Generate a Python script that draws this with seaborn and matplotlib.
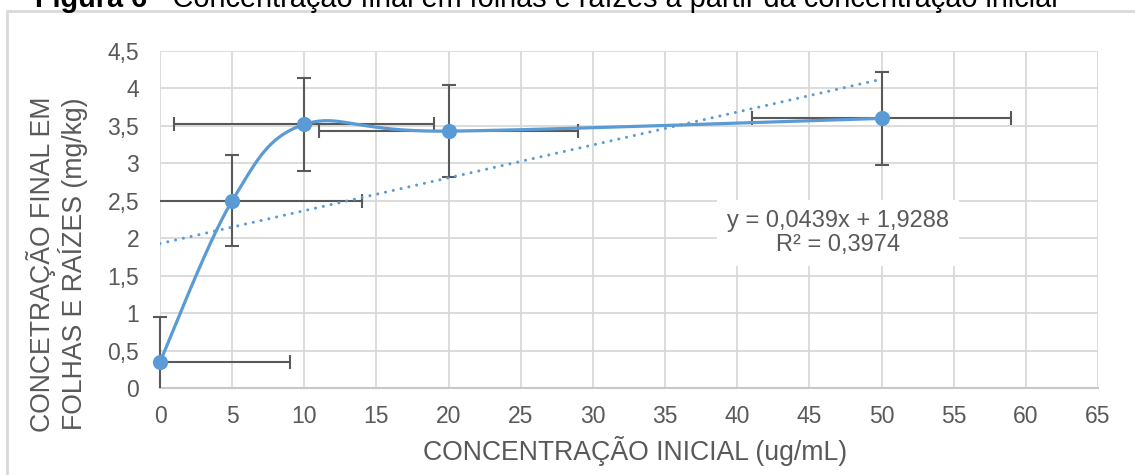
import numpy as np
import matplotlib
matplotlib.use("Agg")
import matplotlib.pyplot as plt
from matplotlib.patches import Rectangle
import seaborn as sns

# ---- data ----
conc_inicial = [0, 5, 10, 20, 50]
conc_final = [0.35, 2.50, 3.52, 3.43, 3.60]
erro_y = [0.60, 0.61, 0.62, 0.61, 0.62]
erro_x = [9, 9, 9, 9, 9]
trend_slope = 0.0439
trend_intercept = 1.9288
trend_r2 = 0.3974
x_ticks = list(range(0, 70, 5))
y_ticks = [0, 0.5, 1, 1.5, 2, 2.5, 3, 3.5, 4, 4.5]
y_tick_labels = ["0", "0,5", "1", "1,5", "2", "2,5", "3", "3,5", "4", "4,5"]

BLUE = "#5b9bd5"
GREY = "#595959"
GRID = "#d9d9d9"
W, H = 1135, 475
XMIN, XMAX, YMIN, YMAX = 0, 65, 0, 4.5

sns.set_theme(style="white")
plt.rcParams["font.family"] = ["Liberation Sans", "DejaVu Sans"]


def catmull_rom(xs, ys, n=60):
    """Excel-like smoothed line (Catmull-Rom through the data points)."""
    P = np.column_stack([xs, ys]).astype(float)
    P = np.vstack([P[0], P, P[-1]])
    out = []
    for i in range(1, len(P) - 2):
        p0, p1, p2, p3 = P[i - 1], P[i], P[i + 1], P[i + 2]
        b0 = p1
        b1 = p1 + (p2 - p0) / 6.0
        b2 = p2 - (p3 - p1) / 6.0
        b3 = p2
        t = np.linspace(0, 1, n)[:, None]
        seg = ((1 - t) ** 3) * b0 + 3 * ((1 - t) ** 2) * t * b1 + 3 * (1 - t) * t ** 2 * b2 + t ** 3 * b3
        out.append(seg if i == 1 else seg[1:])
    c = np.vstack(out)
    return c[:, 0], c[:, 1]


fig = plt.figure(figsize=(W / 100, H / 100), dpi=100)
ax = fig.add_axes([160 / W, 1 - 388 / H, (1098 - 160) / W, (388 - 51) / H])

# chart border (extends beyond the image on right/bottom)
fig.patches.append(Rectangle((7 / W, -0.1), 1.2, 1 - 11 / H + 0.1, transform=fig.transFigure,
                             fill=False, edgecolor=GRID, linewidth=2, zorder=0))

# error bars, truncated at the axis limits (Excel style: no cap on truncated ends)
xs = np.array(conc_inicial, float)
ys = np.array(conc_final, float)
ex = np.array(erro_x, float)
ey = np.array(erro_y, float)
x_lo = np.minimum(ex, xs - XMIN)
x_hi = np.minimum(ex, XMAX - xs)
y_lo = np.minimum(ey, ys - YMIN)
y_hi = np.minimum(ey, YMAX - ys)
ax.errorbar(xs, ys, yerr=[y_lo, y_hi], xerr=[x_lo, x_hi], fmt="none",
            ecolor=GREY, elinewidth=1.5, capsize=0, zorder=3, clip_on=False)
cap_kw = dict(color=GREY, s=95, linewidths=1.5, zorder=3, clip_on=False)
m = x_lo >= ex
ax.scatter(xs[m] - ex[m], ys[m], marker="|", **cap_kw)
m = x_hi >= ex
ax.scatter(xs[m] + ex[m], ys[m], marker="|", **cap_kw)
m = y_lo >= ey
ax.scatter(xs[m], ys[m] - ey[m], marker="_", **cap_kw)
m = y_hi >= ey
ax.scatter(xs[m], ys[m] + ey[m], marker="_", **cap_kw)

# smoothed curve
sx, sy = catmull_rom(conc_inicial, conc_final)
sns.lineplot(x=sx, y=sy, sort=False, estimator=None, color=BLUE, linewidth=2.3, ax=ax, zorder=4)

# linear trend line
tx = np.array([conc_inicial[0], conc_inicial[-1]], dtype=float)
ty = trend_slope * tx + trend_intercept
sns.lineplot(x=tx, y=ty, sort=False, estimator=None, color=BLUE, linewidth=2.2,
             linestyle=(0, (0.01, 2.6)), dash_capstyle="round", ax=ax, zorder=4)

# markers
sns.scatterplot(x=conc_inicial, y=conc_final, color=BLUE, s=120, edgecolor=BLUE,
                linewidth=0, ax=ax, zorder=5, clip_on=False)

ax.set_xlim(XMIN, XMAX)
ax.set_ylim(YMIN, YMAX)
ax.set_xticks(x_ticks)
ax.set_xticklabels([str(v) for v in x_ticks])
ax.set_yticks(y_ticks)
ax.set_yticklabels(y_tick_labels)
ax.tick_params(axis="both", length=0, labelsize=16.5, labelcolor=GREY)
ax.tick_params(axis="y", pad=15)
ax.tick_params(axis="x", pad=12)
ax.grid(True, color=GRID, linewidth=1.3)
ax.set_axisbelow(True)
for s in ["top", "right", "left"]:
    ax.spines[s].set_visible(False)
ax.spines["bottom"].set_color("#c8c8c8")
ax.spines["bottom"].set_linewidth(1.5)
ax.set_xlabel("")
ax.set_ylabel("")

# trend equation
fmt = lambda v: str(v).replace(".", ",")
eq = f"y = {fmt(trend_slope)}x + {fmt(trend_intercept)}\nR² = {fmt(trend_r2)}"
fig.text(838 / W, 1 - 233 / H, eq, ha="center", va="center", fontsize=17, color=GREY,
         linespacing=1.12, bbox=dict(facecolor="white", edgecolor="none", pad=7), zorder=6)

# axis labels
fig.text(635 / W, 1 - 451 / H, "CONCENTRAÇÃO INICIAL (ug/mL)", ha="center", va="center",
         fontsize=19.2, color=GREY)
fig.text(57 / W, 1 - 264 / H, "CONCETRAÇÃO FINAL EM\nFOLHAS E RAÍZES (mg/kg)", ha="center",
         va="center", rotation=90, fontsize=19.2, color=GREY, linespacing=1.05,
         multialignment="center")

# title (partially cut at the top of the image, as in the reference)
t1 = fig.text(35 / W, 1 - 7 / H, "Figura 6", ha="left", va="baseline", fontsize=20.8,
              fontweight="bold", color="black")
fig.canvas.draw()
bb = t1.get_window_extent(fig.canvas.get_renderer())
fig.text(bb.x1 / W, 1 - 7 / H, " - Concentração final em folhas e raízes a partir da concentração inicial",
         ha="left", va="baseline", fontsize=20.8, color="black")

fig.savefig("out.png", dpi=100)
